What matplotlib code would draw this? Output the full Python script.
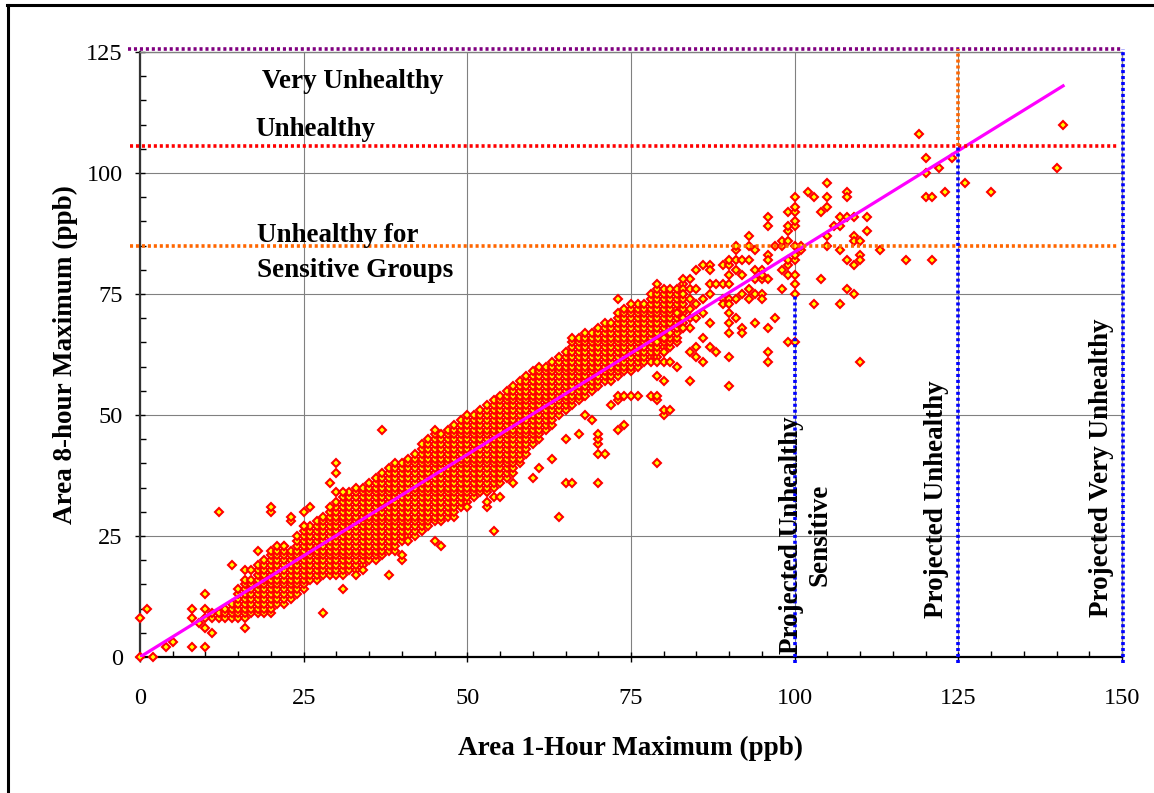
import matplotlib

matplotlib.use("Agg")
import matplotlib.pyplot as plt
from matplotlib.lines import Line2D
from matplotlib.ticker import MultipleLocator

# dense band: for each 1-hour value every 8-hour value between lo and hi is present
band_x = list(range(11, 84))
band_lo = [
    8, 8, 8, 8, 8, 8, 9, 9, 9, 9,
    11, 11, 12, 13, 14, 16, 16, 17, 17, 17,
    17, 18, 18, 19, 20, 20, 21, 22, 22, 24,
    25, 25, 26, 27, 28, 28, 29, 29, 31, 32,
    33, 34, 34, 35, 36, 37, 38, 40, 42, 44,
    45, 47, 48, 50, 51, 52, 53, 54, 55, 56,
    57, 57, 58, 59, 59, 60, 61, 62, 62, 63,
    64, 65, 68,
]
band_hi = [
    9, 9, 10, 11, 14, 16, 16, 19, 20, 22,
    23, 23, 22, 25, 27, 27, 28, 29, 30, 32,
    33, 34, 35, 35, 36, 37, 38, 39, 40, 40,
    41, 42, 44, 45, 46, 46, 47, 48, 49, 50,
    50, 51, 52, 53, 54, 55, 56, 57, 58, 59,
    60, 60, 61, 62, 63, 66, 66, 67, 67, 68,
    69, 69, 71, 72, 72, 73, 73, 75, 76, 76,
    76, 75, 77,
]

# scattered points outside the band (1-hour, 8-hour)
low_pts = [
    (0, 0), (0, 8), (1, 10), (2, 0), (4, 2), (5, 3), (8, 10), (8, 8), (8, 2),
    (9, 7), (10, 13), (10, 10), (10, 8), (10, 6), (10, 2), (11, 5), (12, 30),
    (14, 19), (16, 6), (16, 18), (17, 18), (18, 22), (20, 30), (20, 31),
    (22, 23), (23, 28), (23, 29), (25, 27), (25, 30), (26, 31), (28, 9),
    (29, 31), (29, 36), (30, 34), (31, 34), (30, 38), (30, 40), (31, 14),
    (33, 17), (34, 18), (37, 47), (38, 17), (40, 20), (40, 21), (41, 24),
    (45, 24), (45, 47), (46, 23), (50, 31), (53, 31), (53, 32), (54, 26),
    (54, 33), (55, 33), (57, 36), (60, 37), (61, 39), (63, 41), (64, 29),
    (65, 36), (65, 45), (66, 36), (67, 46), (68, 50), (69, 49), (70, 36),
    (70, 42), (70, 44), (70, 45), (70, 46), (71, 42), (72, 52), (73, 47),
    (73, 53), (73, 54), (73, 74), (74, 48), (74, 54), (75, 54), (75, 73),
    (76, 54), (78, 54), (79, 53), (79, 54), (79, 40), (79, 77), (80, 50),
    (80, 51), (81, 51),
]
mid_pts = [
    (78, 61), (79, 61), (80, 61), (81, 61), (82, 60), (79, 58), (80, 57),
    (82, 76), (83, 76), (83, 75), (84, 76), (85, 76), (86, 74), (87, 75),
    (87, 77), (88, 77), (89, 77), (90, 77), (90, 79), (91, 80), (92, 79),
    (89, 74), (90, 74), (91, 74), (92, 75), (93, 74), (94, 75), (95, 75),
    (95, 74), (94, 78), (95, 78), (96, 78), (93, 76), (82, 71), (83, 70),
    (84, 70), (85, 70), (86, 71), (87, 69), (89, 73), (90, 73), (90, 71),
    (91, 70), (94, 69), (96, 68), (84, 68), (83, 68), (81, 67), (80, 66),
    (79, 65), (80, 63), (86, 66), (85, 64), (87, 64), (88, 63), (84, 63),
    (85, 62), (86, 61), (84, 57), (90, 62), (90, 56), (90, 67), (90, 69),
    (92, 68), (92, 67), (97, 70), (96, 63), (96, 61), (99, 65), (100, 65),
    (110, 61), (100, 75), (103, 73), (107, 73), (109, 75), (108, 76), (104, 78),
    (84, 72), (84, 74), (85, 73), (84, 78),
]
high_pts = [
    (85, 80), (86, 81), (87, 81), (87, 80), (83, 78), (89, 81), (90, 81),
    (90, 82), (91, 82), (92, 82), (93, 82), (91, 84), (91, 85), (93, 85),
    (94, 84), (93, 87), (94, 80), (95, 80), (95, 79), (96, 83), (96, 82),
    (96, 89), (96, 91), (97, 85), (98, 85), (98, 86), (98, 80), (99, 81),
    (99, 79), (100, 79), (100, 77), (98, 76), (99, 82), (100, 82), (100, 83),
    (101, 84), (101, 85), (99, 86), (99, 88), (99, 89), (99, 92), (100, 85),
    (100, 89), (100, 90), (100, 92), (100, 93), (100, 95), (102, 96), (103, 95),
    (104, 92), (105, 98), (105, 95), (105, 93), (105, 87), (105, 85), (106, 89),
    (107, 91), (107, 89), (108, 91), (109, 91), (108, 96), (108, 95), (111, 91),
    (111, 88), (109, 87), (109, 86), (110, 86), (107, 84), (108, 82), (109, 81),
    (110, 83), (110, 82), (113, 84), (117, 82), (121, 82), (119, 108), (120, 103),
    (120, 100), (122, 101), (124, 103), (120, 95), (121, 95), (123, 96), (126, 98),
    (130, 96), (140, 101), (141, 110),
]

# trend line end points
fit_x = [0, 141]
fit_y = [0, 118]

# AQI category levels (8-hour) and projected 1-hour equivalents
level_usg = 85
level_unhealthy = 105.5
level_very = 125.6
proj_usg = 100
proj_unhealthy = 125
proj_very = 150

plt.rcParams["font.family"] = ["Liberation Serif", "DejaVu Serif"]

fig = plt.figure(figsize=(11.54, 7.93), dpi=100)
ax = fig.add_axes([140 / 1154, 1 - 657 / 793, 982 / 1154, 605 / 793])

pts_x, pts_y = [], []
for x, lo, hi in zip(band_x, band_lo, band_hi):
    for y in range(lo, hi + 1):
        pts_x.append(x)
        pts_y.append(y)
for group in (low_pts, mid_pts, high_pts):
    for x, y in group:
        pts_x.append(x)
        pts_y.append(y)

ax.plot(pts_x, pts_y, linestyle="none", marker="D", markersize=4.1,
        markerfacecolor="#FFFF00", markeredgecolor="#FF0000",
        markeredgewidth=1.5, zorder=3, clip_on=False)
ax.plot(fit_x, fit_y, color="#FF00FF", linewidth=2.3, zorder=4)

dots = dict(linewidth=2.6, linestyle=(0, (0.85, 0.8)), dash_capstyle="butt",
            clip_on=False, zorder=5)
ax.plot([-1.8, 150], [level_very, level_very], color="#800080", **dots)
ax.plot([-1.5, 149.6], [level_unhealthy, level_unhealthy], color="#FF0000", **dots)
ax.plot([-1.5, 149.6], [level_usg, level_usg], color="#FF6600", **dots)
ax.plot([proj_usg, proj_usg], [-1.2, 75], color="#0000FF", **dots)
ax.plot([proj_unhealthy, proj_unhealthy], [-1.2, level_unhealthy], color="#0000FF", **dots)
ax.plot([proj_unhealthy, proj_unhealthy], [level_unhealthy, level_very], color="#FF6600", **dots)
ax.plot([proj_very + 0.2, proj_very + 0.2], [-1.2, level_very], color="#0000FF", **dots)

ax.set_xlim(0, 150)
ax.set_ylim(0, 125)
ax.xaxis.set_major_locator(MultipleLocator(25))
ax.xaxis.set_minor_locator(MultipleLocator(5))
ax.yaxis.set_major_locator(MultipleLocator(25))
ax.yaxis.set_minor_locator(MultipleLocator(5))
ax.tick_params(which="major", direction="inout", length=7, width=1, labelsize=17.5)
ax.tick_params(which="minor", direction="in", length=4, width=1)
ax.tick_params(axis="x", which="major", pad=19)
ax.tick_params(axis="y", which="major", pad=9)
ax.grid(which="major", color="#808080", linewidth=0.8)
ax.set_axisbelow(True)

ax.spines["left"].set_color("#333333")
ax.spines["left"].set_linewidth(1.6)
ax.spines["bottom"].set_color("black")
ax.spines["bottom"].set_linewidth(1.6)
for side in ("top", "right"):
    ax.spines[side].set_color("#808080")
    ax.spines[side].set_linewidth(1.0)

bold = dict(fontsize=19.5, fontweight="bold", zorder=6)
ax.text(18.6, 117.6, "Very Unhealthy", ha="left", va="baseline", **bold)
ax.text(17.6, 107.6, "Unhealthy", ha="left", va="baseline", **bold)
ax.text(17.9, 85.8, "Unhealthy for", ha="left", va="baseline", **bold)
ax.text(17.9, 78.6, "Sensitive Groups", ha="left", va="baseline", **bold)
ax.text(101.7, 25.2, "Projected Unhealthy\nSensitive", rotation=90, ha="center",
        va="center", multialignment="center", linespacing=1.2, **bold)
ax.text(121.7, 32.6, "Projected Unhealthy", rotation=90, ha="center", va="center", **bold)
ax.text(146.8, 39.0, "Projected Very Unhealthy", rotation=90, ha="center", va="center", **bold)

ax.set_xlabel("Area 1-Hour Maximum (ppb)", fontsize=19.5, fontweight="bold")
ax.set_ylabel("Area 8-hour Maximum (ppb)", fontsize=19.5, fontweight="bold")
ax.xaxis.set_label_coords(0.5, -0.13)
ax.yaxis.set_label_coords(-0.063, 0.5)

# page frame
fig.add_artist(Line2D([7.5 / 1154, 7.5 / 1154], [0, 1 - 5 / 793],
                      transform=fig.transFigure, color="black", linewidth=2.2))
fig.add_artist(Line2D([6.5 / 1154, 1], [1 - 5 / 793, 1 - 5 / 793],
                      transform=fig.transFigure, color="black", linewidth=2.2))

fig.savefig("out.png", dpi=100)
